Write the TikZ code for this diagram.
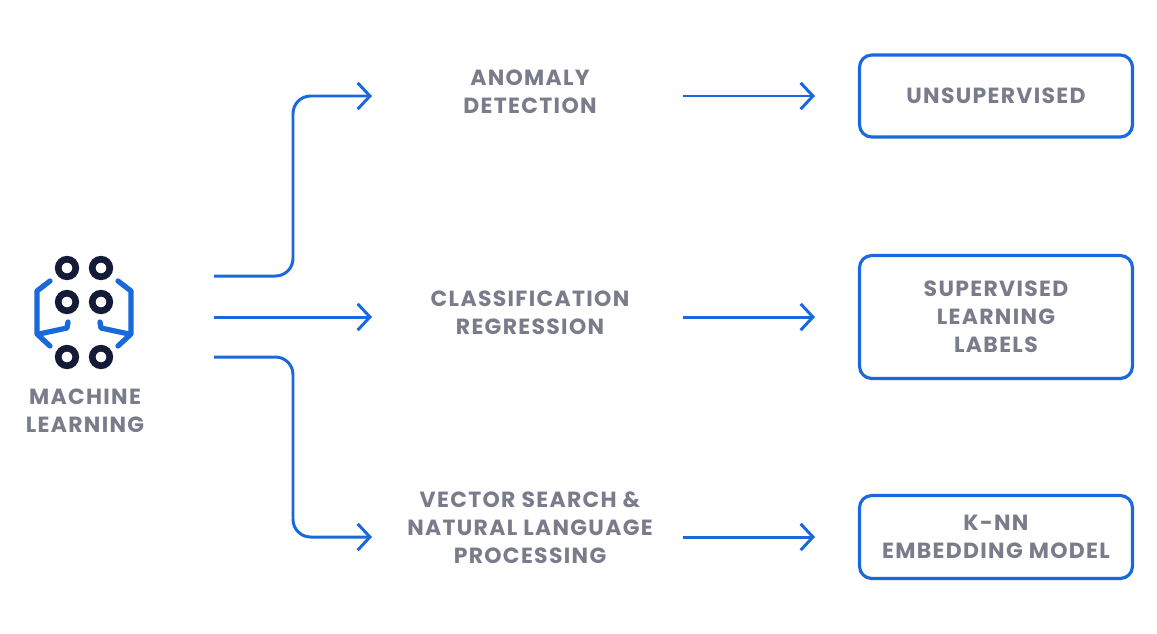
\documentclass[tikz,border=0pt]{standalone}
\usepackage{fontspec}
\setmainfont{Poppins}[LetterSpace=6]
\usetikzlibrary{arrows.meta}
\definecolor{mlblue}{HTML}{1A69DC}
\definecolor{mlgray}{HTML}{7A7C8B}
\definecolor{mlnavy}{HTML}{141B38}
\tikzset{
  txt/.style={font=\bfseries\fontsize{12.5}{16}\selectfont, text=mlgray, align=center},
  box/.style={draw=mlblue, line width=1.8pt, rounded corners=7pt, minimum width=273*0.02cm, txt},
  link/.style={mlblue, line width=1.7pt, -{Straight Barb[length=7pt,width=15pt,line width=1.7pt]}},
  dot/.style={circle, draw=mlnavy, line width=3.8pt, minimum size=10pt, inner sep=0pt}
}
\begin{document}
\begin{tikzpicture}[x=0.02cm,y=-0.02cm]
        \useasboundingbox (0,0) rectangle (1157,633);

        % Icon
        \foreach \x/\y/\n in {67/268/a, 101/268/b, 67/302/c, 101/302/d, 67/357/e, 101/357/f} {
            \node[dot] (dot\n) at (\x,\y) {};
        }
        \draw[mlblue, line width=3pt, line cap=round, line join=round]
            (50,281) -- (37,291) -- (37,334) -- (50,346);
        \draw[mlblue, line width=3pt, line cap=round, line join=round]
            (68,322) -- (67,328) -- (39,334);
        \draw[mlblue, line width=3pt, line cap=round, line join=round]
            (118,281) -- (131,291) -- (131,334) -- (118,346);
        \draw[mlblue, line width=3pt, line cap=round, line join=round]
            (100,322) -- (101,328) -- (129,334);
        \node[txt] (ml) at (85,411) {MACHINE\\LEARNING};

        % Middle texts
        \node[txt] (anomaly) at (530,92) {ANOMALY\\DETECTION};
        \node[txt] (classif) at (530,313) {CLASSIFICATION\\REGRESSION};
        \node[txt] (vector) at (530,528) {VECTOR SEARCH \&\\NATURAL LANGUAGE\\PROCESSING};

        % Boxes
        \node[box, minimum height=82*0.02cm] (unsup) at (996,96) {UNSUPERVISED};
        \node[box, minimum height=123*0.02cm] (sup) at (996,317) {SUPERVISED\\LEARNING\\LABELS};
        \node[box, minimum height=83*0.02cm] (knn) at (996,537) {K-NN\\EMBEDDING MODEL};

        % Connectors
        \coordinate (s1) at (214,276);
        \coordinate (s2) at (214,317);
        \coordinate (s3) at (214,357);
        \draw[link, rounded corners=10pt] (s1) -- (293,276) -- (293,96) -- (372,96);
        \draw[link] (s2) -- (372,317);
        \draw[link, rounded corners=10pt] (s3) -- (293,357) -- (293,537) -- (372,537);
        \draw[link] (683,96) -- (815,96);
        \draw[link] (683,317) -- (815,317);
        \draw[link] (683,537) -- (815,537);
\end{tikzpicture}
\end{document}
